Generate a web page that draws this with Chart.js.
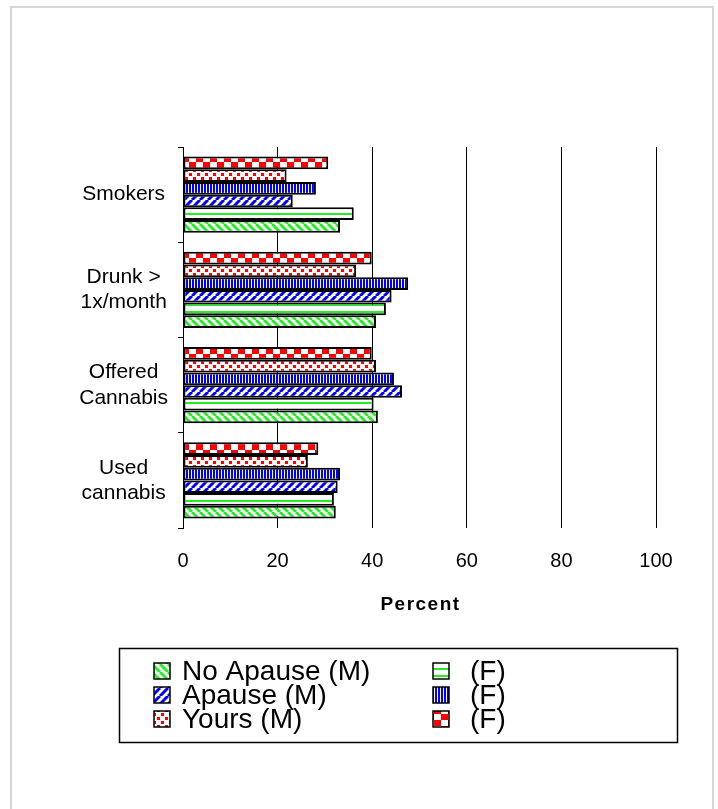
<!DOCTYPE html>
<html>
<head>
<meta charset="utf-8">
<title>Substance use by programme</title>
<script src="https://cdn.jsdelivr.net/npm/chart.js@4/dist/chart.umd.min.js"></script>
<style>
  body { margin: 0; background: #fff; overflow: hidden; }
  #wrap { position: relative; width: 718px; height: 809px; }
</style>
</head>
<body>
<div id="wrap"><canvas id="survey"></canvas></div>
<script>
  // categories top to bottom
  var categories = ['Smokers', ['Drunk >', '1x/month'], ['Offered', 'Cannabis'], ['Used', 'cannabis']];

  // percent of pupils, same order as categories
  var noApauseM = [33.2, 40.8, 41.2, 32.3];
  var noApauseF = [36.1, 42.9, 40.3, 31.9];
  var apauseM   = [23.2, 44.1, 46.3, 32.7];
  var apauseF   = [28.1, 47.6, 44.6, 33.2];
  var yoursM    = [21.9, 36.6, 40.8, 26.4];
  var yoursF    = [30.7, 39.9, 39.9, 28.6];

  var tickValues = [0, 20, 40, 60, 80, 100];
  var axisTitle = 'Percent';

  var FONT = '"Liberation Sans", Arial, sans-serif';
  var GREEN = '#22ee22', BLUE = '#0000ff', RED = '#ff0000';

  // little fill patterns in the old office-chart style
  function tile(w, h, paint) {
    var c = document.createElement('canvas');
    c.width = w; c.height = h;
    var g = c.getContext('2d');
    g.fillStyle = '#fff';
    g.fillRect(0, 0, w, h);
    paint(g);
    return document.createElement('canvas').getContext('2d').createPattern(c, 'repeat');
  }
  var patterns = {
    greenDiag: tile(8, 8, function (g) {
      g.strokeStyle = GREEN; g.lineWidth = 3;
      for (var x = -8; x <= 8; x += 8) { g.beginPath(); g.moveTo(x, 0); g.lineTo(x + 8, 8); g.stroke(); }
    }),
    greenHoriz: tile(4, 7, function (g) {
      g.fillStyle = GREEN; g.fillRect(0, 3, 4, 2);
    }),
    blueDiag: tile(8, 8, function (g) {
      g.strokeStyle = BLUE; g.lineWidth = 3;
      for (var x = -8; x <= 8; x += 8) { g.beginPath(); g.moveTo(x, 8); g.lineTo(x + 8, 0); g.stroke(); }
    }),
    blueVert: tile(3, 4, function (g) {
      g.fillStyle = BLUE; g.fillRect(0, 0, 2, 4);
    }),
    redDots: tile(8, 8, function (g) {
      g.fillStyle = RED; g.fillRect(1, 1, 3, 3); g.fillRect(5, 5, 3, 3);
    }),
    redCheck: tile(14, 12, function (g) {
      g.fillStyle = RED; g.fillRect(0, 0, 7, 6); g.fillRect(7, 6, 7, 6);
    })
  };

  // legend order: row by row, male then female
  var series = [
    { label: 'No Apause (M)', data: noApauseM, fill: patterns.greenDiag },
    { label: '(F)',           data: noApauseF, fill: patterns.greenHoriz },
    { label: 'Apause (M)',    data: apauseM,   fill: patterns.blueDiag },
    { label: '(F)',           data: apauseF,   fill: patterns.blueVert },
    { label: 'Yours (M)',     data: yoursM,    fill: patterns.redDots },
    { label: '(F)',           data: yoursF,    fill: patterns.redCheck }
  ];

  // bars in a band go top to bottom, so the last series goes first
  var datasets = series.slice().reverse().map(function (s) {
    return {
      label: s.label,
      data: s.data,
      backgroundColor: s.fill,
      borderColor: '#000',
      borderWidth: 2,
      borderSkipped: false,
      categoryPercentage: 0.8,
      barPercentage: 1.0
    };
  });

  var frameAndLegend = {
    id: 'frameAndLegend',
    beforeDraw: function (chart) {
      var ctx = chart.ctx;
      ctx.save();
      ctx.fillStyle = '#fff';
      ctx.fillRect(0, 0, chart.width, chart.height);
      ctx.strokeStyle = '#d6d6d6';
      ctx.lineWidth = 2;
      ctx.beginPath();
      ctx.moveTo(11, 830); ctx.lineTo(11, 7); ctx.lineTo(713, 7); ctx.lineTo(713, 830);
      ctx.stroke();
      ctx.restore();
    },
    afterDraw: function (chart) {
      var ctx = chart.ctx;
      var area = chart.chartArea;
      ctx.save();

      // axis title
      ctx.fillStyle = '#000';
      ctx.font = 'bold 19px ' + FONT;
      ctx.letterSpacing = '1.5px';
      ctx.textAlign = 'center';
      ctx.textBaseline = 'middle';
      ctx.fillText(axisTitle, (area.left + area.right) / 2 + 1, 605);
      ctx.letterSpacing = '0px';

      // legend box
      ctx.strokeStyle = '#000';
      ctx.lineWidth = 1.5;
      ctx.strokeRect(119.5, 648.5, 558, 94);

      ctx.font = '28px ' + FONT;
      ctx.textAlign = 'left';
      var cols = [{ box: 154, text: 182 }, { box: 433, text: 470 }];
      series.forEach(function (s, i) {
        var col = cols[i % 2];
        var cy = 671 + Math.floor(i / 2) * 24;
        ctx.fillStyle = s.fill;
        ctx.fillRect(col.box, cy - 8, 16, 16);
        ctx.strokeStyle = '#000';
        ctx.lineWidth = 1.5;
        ctx.strokeRect(col.box, cy - 8, 16, 16);
        ctx.fillStyle = '#000';
        ctx.fillText(s.label, col.text, cy + 1);
      });
      ctx.restore();
    }
  };

  var chart = new Chart(document.getElementById('survey'), {
    type: 'bar',
    data: { labels: categories, datasets: datasets },
    options: {
      indexAxis: 'y',
      responsive: true,
      maintainAspectRatio: false,
      animation: false,
      layout: { padding: { left: 0, right: 62, top: 147, bottom: 241 } },
      plugins: { legend: { display: false }, tooltip: { enabled: false } },
      scales: {
        x: {
          min: tickValues[0],
          max: tickValues[tickValues.length - 1],
          afterBuildTicks: function (scale) {
            scale.ticks = tickValues.map(function (v) { return { value: v }; });
          },
          afterFit: function (scale) { scale.height = 40; },
          border: { display: false },
          grid: { color: '#000', lineWidth: 1, drawTicks: false },
          ticks: { color: '#000', padding: 21, font: { family: FONT, size: 20 } }
        },
        y: {
          afterFit: function (scale) { scale.width = 183; },
          border: { display: true, color: '#000', width: 1 },
          grid: { offset: true, drawOnChartArea: false, color: '#000', tickLength: 5 },
          ticks: {
            color: '#000',
            crossAlign: 'center',
            padding: 10,
            font: { family: FONT, size: 21, lineHeight: 1.2 }
          }
        }
      }
    },
    plugins: [frameAndLegend]
  });
</script>
</body>
</html>
